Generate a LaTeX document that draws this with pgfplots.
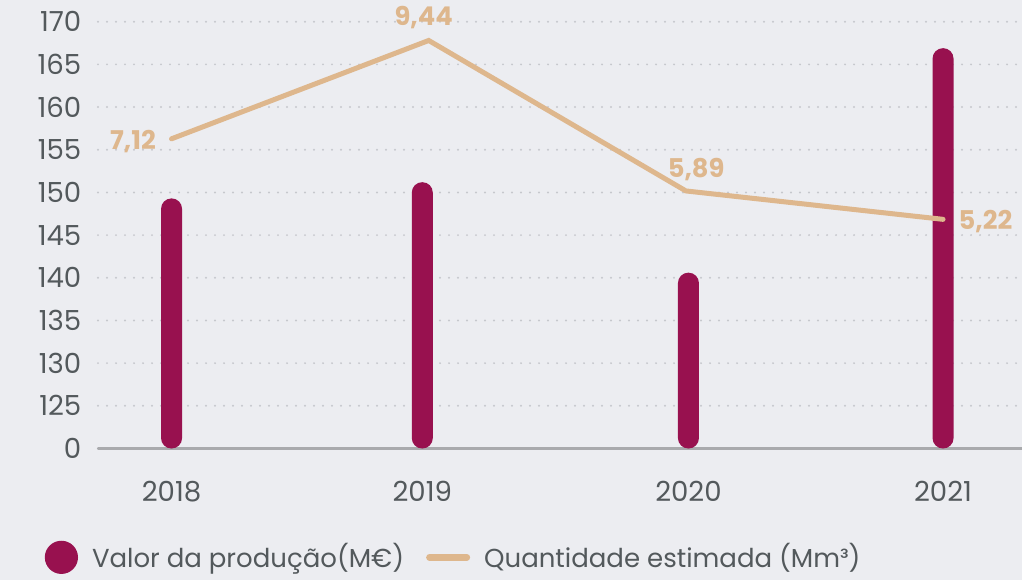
\documentclass[border=0pt]{standalone}
\usepackage{pgfplots}
\pgfplotsset{compat=1.18}
\usepackage{pgfplotstable}
\usepackage{fontspec}
\setmainfont{Poppins}
\definecolor{bgc}{HTML}{ECEDF1}
\definecolor{barc}{HTML}{98114F}
\definecolor{linec}{HTML}{DEB78D}
\definecolor{gridc}{HTML}{C6C8CD}
\definecolor{basec}{HTML}{A9AAAD}
\definecolor{txtc}{HTML}{53595C}

\pgfplotstableread{
x y
0 149.3
0.975 151.2
2.01 140.6
3 166.9
}\bardata

\pgfplotstableread{
x y lab dx dy
0 7.12 7,12 -19.3 -5.35
1 9.44 9,44 -2.5 7.25
2 5.89 5,89 5.15 6.85
3 5.22 5,22 21.2 -4.85
}\linedata

\begin{document}
\begin{tikzpicture}
\fill[bgc] (-49pt,-65.75pt) rectangle (462pt,224.25pt);
\begin{axis}[
  at={(0,0)}, anchor=south west,
  scale only axis, width=462pt, height=213.4pt,
  xmin=-0.286, xmax=3.307, ymin=120, ymax=170,
  y coord trafo/.code={\pgfmathparse{#1-120}},
  y coord inv trafo/.code={\pgfmathparse{#1+120}},
  axis line style={draw=none},
  tick style={draw=none}, major tick length=0pt,
  xtick={0,0.975,2.01,3}, xticklabels={2018,2019,2020,2021},
  ytick={125,130,...,170},
  yticklabels={125,130,135,140,145,150,155,160,165,170},
  extra y ticks={120}, extra y tick labels={0},
  extra y tick style={grid=major, major grid style={basec, line width=1.1pt, solid}},
  ymajorgrids,
  major grid style={gridc, line width=1.1pt, line cap=round, dash pattern=on 0pt off 4.5pt},
  yticklabel style={anchor=east, inner sep=0pt, xshift=-8.15pt, font=\fontsize{13.8}{16}\selectfont, text=txtc},
  xticklabel style={anchor=base, inner sep=0pt, yshift=-26.6pt, font=\fontsize{13.8}{16}\selectfont, text=txtc},
  legend columns=2,
  legend cell align=left,
  legend style={at={(rel axis cs:-0.058,-0.255)}, anchor=west, draw=none, fill=none,
    inner sep=0pt, font=\fontsize{13}{16}\selectfont, text=txtc,
    /tikz/every odd column/.append style={column sep=5pt},
    /tikz/every even column/.append style={column sep=9pt}},
]
\addplot[ybar, bar width=10.5pt, fill=barc, draw=none, rounded corners=5.2pt,
  legend image code/.code={\fill[barc] (8.3pt,0pt) circle (8.3pt);}]
  table[x=x, y=y]{\bardata};
\addlegendentry{Valor da produção(M€)}
\addlegendimage{legend image code/.code={\draw[linec, line width=3.3pt, line cap=round] (1.65pt,0pt) -- (20.35pt,0pt);}}
\addlegendentry{Quantidade estimada (Mm³)}
\end{axis}
\begin{axis}[
  at={(0,0)}, anchor=south west,
  scale only axis, width=462pt, height=213.4pt,
  xmin=-0.286, xmax=3.307, ymin=-0.187, ymax=9.883,
  hide axis, clip=false,
]
\addplot[linec, line width=2.5pt, line cap=round, line join=miter,
  nodes near coords, point meta=explicit symbolic,
  visualization depends on={\thisrow{dx}\as\mydx},
  visualization depends on={\thisrow{dy}\as\mydy},
  every node near coord/.append style={anchor=base, inner sep=0pt,
    xshift=\mydx pt, yshift=\mydy pt,
    font=\bfseries\fontsize{12.9}{15}\selectfont, text=linec}]
  table[x=x, y=y, meta=lab]{\linedata};
\end{axis}
\pgfresetboundingbox
\useasboundingbox (-49pt,-65.75pt) rectangle (462pt,224.25pt);
\end{tikzpicture}
\end{document}
